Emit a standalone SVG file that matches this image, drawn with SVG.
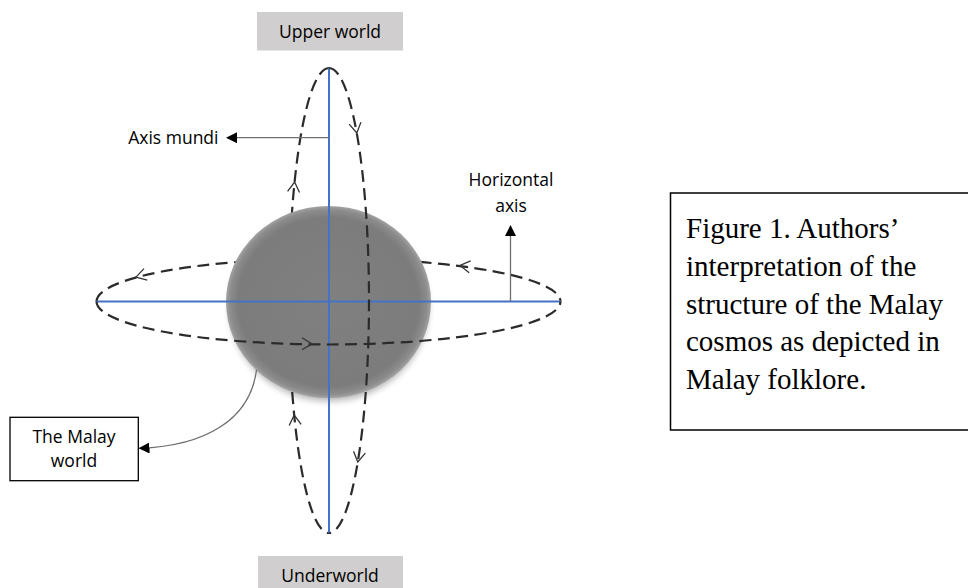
<svg xmlns="http://www.w3.org/2000/svg" xmlns:xlink="http://www.w3.org/1999/xlink" width="968" height="588" viewBox="0 0 968 588">
<style>
.lbl{font-family:"Open Sans","Liberation Sans",sans-serif;font-size:17.5px;fill:#000}
.cap{font-family:"Liberation Serif","Times New Roman",serif;font-size:29px;fill:#000}
.dash{fill:none;stroke:#2b2b2b;stroke-width:2.2;stroke-dasharray:12 6.5}
.axis{stroke:#4472c4;stroke-width:2;fill:none}
.ptr{stroke:#6f6f6f;stroke-width:1.3;fill:none}
.chev{fill:none;stroke:#333;stroke-width:1.3}
.gbox{fill:#d0cece;stroke:none}
.wbox{fill:#fff;stroke:#000;stroke-width:1.3}
</style>
<defs>
<path id="chev" class="chev" d="M-10,-6 L0,0 L-10,6"/>
<marker id="head" markerWidth="11" markerHeight="11" refX="10" refY="5.5" orient="auto" markerUnits="userSpaceOnUse">
<path d="M0,0 L11,5.5 L0,11 Z" fill="#000"/>
</marker>
<radialGradient id="sph" cx="50%" cy="50%" r="50%">
<stop offset="0" stop-color="#808080"/>
<stop offset="0.88" stop-color="#7c7c7c"/>
<stop offset="0.96" stop-color="#8c8c8c"/>
<stop offset="1" stop-color="#a3a3a3"/>
</radialGradient>
<filter id="blur" x="-20%" y="-20%" width="140%" height="140%">
<feGaussianBlur stdDeviation="3.5"/>
</filter>
</defs>
<rect width="968" height="588" fill="#fff"/>

<g id="back-orbits">
<path class="dash" d="M329,68 A40,232.5 0 0,0 329,533"/>
<path class="dash" d="M96.5,301.5 A232,43 0 0,1 560.5,301.5"/>
</g>

<g id="malay-world-sphere">
<ellipse cx="329" cy="308" rx="99" ry="93" fill="#000" opacity="0.3" filter="url(#blur)"/>
<ellipse cx="328.5" cy="302" rx="102.5" ry="96" fill="url(#sph)"/>
</g>

<g id="axes">
<line class="axis" x1="329" y1="68" x2="329" y2="533"/>
<line class="axis" x1="96.5" y1="301.5" x2="560.5" y2="301.5"/>
</g>

<g id="front-orbits">
<path class="dash" d="M329,68 A40,232.5 0 0,1 329,533"/>
<path class="dash" d="M96.5,301.5 A232,43 0 0,0 560.5,301.5"/>
</g>

<g id="orbit-arrows">
<use xlink:href="#chev" transform="translate(294.6,182) rotate(-84)"/>
<use xlink:href="#chev" transform="translate(356.8,133) rotate(80)"/>
<use xlink:href="#chev" transform="translate(294.2,415) rotate(-95.5)"/>
<use xlink:href="#chev" transform="translate(357.8,462) rotate(99.4)"/>
<use xlink:href="#chev" transform="translate(136,277.1) rotate(164.5)"/>
<use xlink:href="#chev" transform="translate(460,265.5) rotate(187.2)"/>
<use xlink:href="#chev" transform="translate(312,343.9) rotate(0.8)"/>
</g>

<g id="connectors">
<line class="ptr" x1="329" y1="137.7" x2="227" y2="137.7" marker-end="url(#head)"/>
<line class="ptr" x1="510.5" y1="301" x2="510.5" y2="226" marker-end="url(#head)"/>
<path class="ptr" d="M256.5,370 C250,420 205,446 139.5,448.3" marker-end="url(#head)"/>
</g>

<g id="upper-world">
<rect class="gbox" x="257" y="12" width="146" height="38.5"/>
<text class="lbl" x="330" y="37.5" text-anchor="middle">Upper world</text>
</g>

<g id="underworld">
<rect class="gbox" x="258" y="556" width="145" height="38"/>
<text class="lbl" x="330" y="581.7" text-anchor="middle">Underworld</text>
</g>

<g id="axis-mundi">
<text class="lbl" x="218.5" y="144" text-anchor="end">Axis mundi</text>
</g>

<g id="horizontal-axis">
<text class="lbl" x="511" y="186" text-anchor="middle">Horizontal</text>
<text class="lbl" x="511" y="211.5" text-anchor="middle">axis</text>
</g>

<g id="the-malay-world">
<rect class="wbox" x="10" y="417.3" width="128.3" height="63.4"/>
<text class="lbl" x="74" y="443.3" text-anchor="middle">The Malay</text>
<text class="lbl" x="74" y="467.3" text-anchor="middle">world</text>
</g>

<g id="caption">
<rect x="670.5" y="193" width="310" height="237" fill="none" stroke="#000" stroke-width="1.5"/>
<text class="cap" x="686" y="237.5">Figure 1. Authors’</text>
<text class="cap" x="686" y="275.5">interpretation of the</text>
<text class="cap" x="686" y="313.5">structure of the Malay</text>
<text class="cap" x="686" y="351">cosmos as depicted in</text>
<text class="cap" x="686" y="388.5">Malay folklore.</text>
</g>
</svg>
